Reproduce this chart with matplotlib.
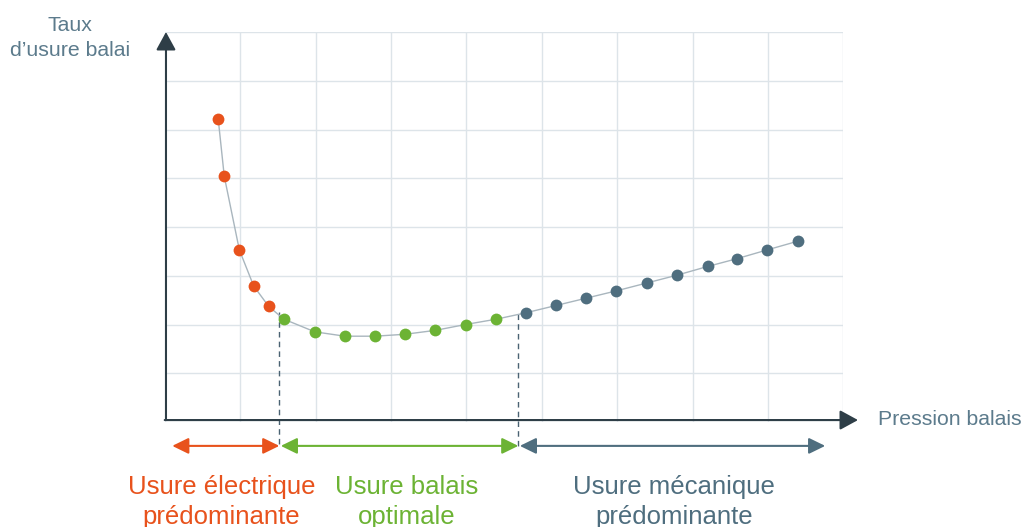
import numpy as np
import matplotlib
matplotlib.use("Agg")
import matplotlib.pyplot as plt

plt.rcParams['font.family'] = ['Liberation Sans', 'DejaVu Sans']

# pression (unites de grille) et taux d'usure
x_elec = [0.71, 0.79, 0.99, 1.18, 1.38]
y_elec = [6.21, 5.04, 3.53, 2.79, 2.37]
x_opt = [1.58, 1.99, 2.39, 2.79, 3.19, 3.59, 3.99, 4.40]
y_opt = [2.11, 1.85, 1.76, 1.76, 1.80, 1.88, 2.00, 2.11]
x_meca = [4.79, 5.19, 5.59, 5.99, 6.39, 6.79, 7.20, 7.59, 7.99, 8.40]
y_meca = [2.24, 2.39, 2.54, 2.69, 2.85, 3.01, 3.19, 3.35, 3.53, 3.71]

# limites des zones
limites = [0.10, 1.52, 4.69, 8.76]
limites_y = [2.25, 2.22]
zones = ["Usure électrique\nprédominante", "Usure balais\noptimale", "Usure mécanique\nprédominante"]
zones_x = [0.75, 3.21, 6.76]

c_orange = "#E8521C"
c_vert = "#6CB334"
c_bleu = "#4F6E7F"
c_axe = "#2E3E47"
c_texte = "#5C7B8C"

fig = plt.figure(figsize=(10.22, 5.27), dpi=100)
ax = fig.add_axes([164.7 / 1022, 105 / 527, 678.6 / 1022, 390 / 527])
ax.set_xlim(0, 9)
ax.set_ylim(0, 8)
ax.set_xticks(range(10))
ax.set_yticks(range(9))
ax.grid(True, color="#DDE4E9", lw=1)
ax.tick_params(length=0, labelbottom=False, labelleft=False)
for s in ax.spines.values():
    s.set_visible(False)

# courbe
xs = x_elec + x_opt + x_meca
ys = y_elec + y_opt + y_meca
ax.plot(xs, ys, '-', color="#A9B6BE", lw=1, zorder=3)
ax.plot(x_elec, y_elec, 'o', color=c_orange, ms=8.5, mew=0, zorder=4)
ax.plot(x_opt, y_opt, 'o', color=c_vert, ms=8.5, mew=0, zorder=4)
ax.plot(x_meca, y_meca, 'o', color=c_bleu, ms=8.5, mew=0, zorder=4)

# axes avec fleches
ax.annotate("", xy=(0.017, 8.0), xytext=(0.017, 0.04),
            arrowprops=dict(arrowstyle="-|>,head_length=0.55,head_width=0.3", color=c_axe,
                            lw=1.5, shrinkA=0, shrinkB=0, mutation_scale=20), annotation_clip=False)
ax.annotate("", xy=(9.195, 0.04), xytext=(0.0, 0.04),
            arrowprops=dict(arrowstyle="-|>,head_length=0.55,head_width=0.3", color=c_axe,
                            lw=1.5, shrinkA=0, shrinkB=0, mutation_scale=20), annotation_clip=False)

ax.text(-1.256, 7.51, "Taux\nd\u2019usure balai", ha="center", va="baseline",
        multialignment="center", fontsize=15.3, color=c_texte, clip_on=False, linespacing=1.38)
ax.text(9.46, -0.06, "Pression balais", ha="left", va="baseline",
        fontsize=15.3, color=c_texte, clip_on=False)

# pointilles
ax.plot([limites[1], limites[1]], [limites_y[0], -0.49], '--', color="#4A6272", lw=1,
        dashes=(4, 3), clip_on=False, zorder=2)
ax.plot([limites[2], limites[2]], [limites_y[1], -0.49], '--', color="#4A6272", lw=1,
        dashes=(4, 3), clip_on=False, zorder=2)

# fleches des zones
couleurs = [c_orange, c_vert, c_bleu]
for i in range(3):
    ax.annotate("", xy=(limites[i + 1], -0.49), xytext=(limites[i] + (0.02 if i > 0 else 0), -0.49),
                arrowprops=dict(arrowstyle="<|-|>,head_length=0.45,head_width=0.22", color=couleurs[i],
                                lw=1.5, shrinkA=0, shrinkB=0, mutation_scale=22),
                annotation_clip=False)
    ax.text(zones_x[i], -2.09, zones[i], ha="center", va="baseline", multialignment="center",
            fontsize=18.5, color=couleurs[i], clip_on=False, linespacing=1.29)

fig.savefig("out.png", dpi=100)
